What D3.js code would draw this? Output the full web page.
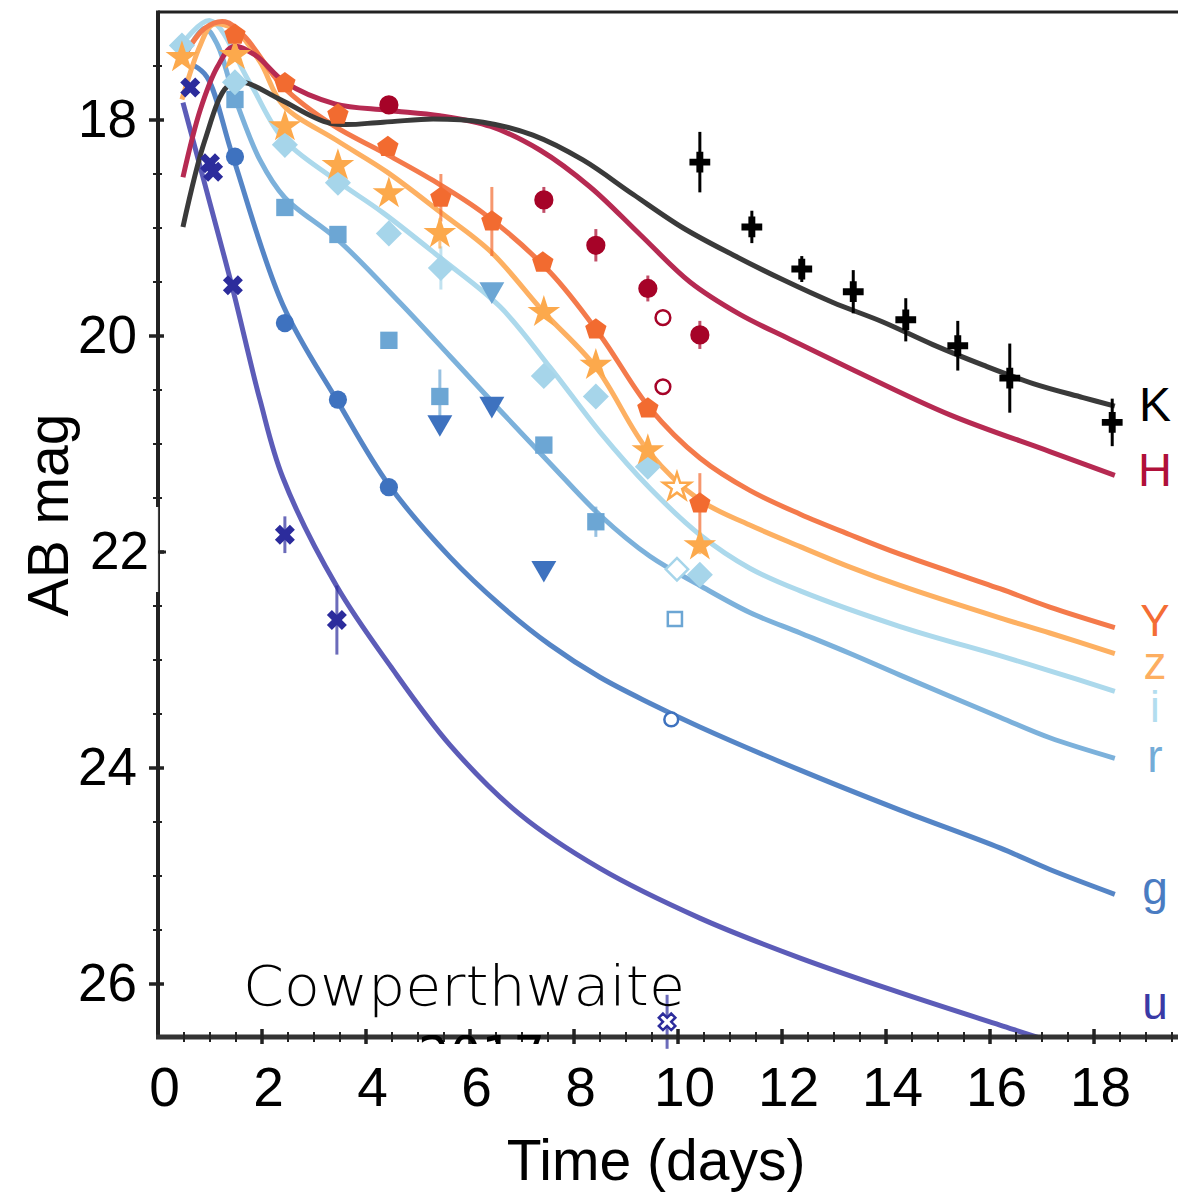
<!DOCTYPE html>
<html>
<head>
<meta charset="utf-8">
<script src="https://cdn.jsdelivr.net/npm/d3@7"></script>
<style>
  body { margin: 0; background: #fff; }
  text { font-family: "Liberation Sans", Arial, Helvetica, sans-serif; }
</style>
</head>
<body>
<div id="chart"></div>
<script>
// ---- model light curves (days, AB mag) ----
const kModelDays = [0.48, 0.9, 1.33, 1.64, 2.35, 3.31, 4.33, 5.29, 6.25, 7.21, 8.17, 9.14, 10.1, 11.06, 12.02, 12.98, 13.94, 14.9, 15.87, 16.83, 17.79, 18.4];
const kModelMags = [18.99, 18.19, 17.69, 17.65, 17.81, 18.03, 18.02, 17.99, 18.02, 18.14, 18.37, 18.69, 19.0, 19.25, 19.48, 19.69, 19.87, 20.08, 20.27, 20.44, 20.57, 20.65];
const hModelDays = [0.48, 0.81, 1.14, 1.44, 1.87, 2.44, 3.4, 4.4, 5.42, 6.4, 7.35, 8.31, 9.27, 10.23, 11.19, 12.15, 13.31, 15.23, 17.15, 18.4];
const hModelMags = [18.53, 17.91, 17.51, 17.32, 17.4, 17.65, 17.85, 17.91, 17.96, 18.06, 18.28, 18.62, 19.06, 19.5, 19.8, 20.03, 20.3, 20.73, 21.07, 21.29];
const yModelDays = [0.46, 0.9, 1.29, 1.67, 2.4, 3.37, 4.33, 5.29, 6.25, 7.54, 8.5, 9.46, 10.42, 11.38, 12.35, 13.31, 14.27, 16.19, 17.15, 18.4];
const yModelMags = [17.44, 17.15, 17.09, 17.23, 17.69, 18.05, 18.3, 18.56, 18.86, 19.41, 19.99, 20.67, 21.13, 21.43, 21.65, 21.84, 22.02, 22.34, 22.51, 22.7];
const zModelDays = [0.46, 0.81, 1.04, 1.44, 1.96, 2.4, 3.44, 4.4, 5.42, 6.4, 7.42, 8.42, 9.42, 10.42, 11.38, 12.35, 13.31, 14.27, 16.19, 17.15, 18.4];
const zModelMags = [17.81, 17.31, 17.12, 17.15, 17.46, 17.86, 18.19, 18.48, 18.85, 19.22, 19.78, 20.29, 21.06, 21.52, 21.75, 21.95, 22.14, 22.31, 22.61, 22.75, 22.94];
const iModelDays = [0.44, 1.0, 1.77, 2.4, 3.37, 4.33, 5.44, 6.58, 7.54, 8.5, 9.46, 10.42, 11.38, 12.35, 14.27, 16.19, 17.15, 18.4];
const iModelMags = [17.31, 17.08, 17.66, 18.17, 18.54, 18.86, 19.28, 19.73, 20.29, 20.89, 21.41, 21.84, 22.15, 22.36, 22.69, 22.96, 23.1, 23.29];
const rModelDays = [0.48, 0.9, 1.15, 1.44, 1.96, 2.44, 3.46, 4.65, 5.62, 6.58, 7.54, 8.5, 9.46, 10.42, 11.38, 12.35, 13.31, 14.27, 16.19, 17.15, 18.4];
const rModelMags = [17.44, 17.15, 17.31, 17.74, 18.37, 18.72, 19.11, 19.69, 20.19, 20.69, 21.18, 21.66, 22.04, 22.31, 22.56, 22.75, 22.94, 23.14, 23.53, 23.72, 23.91];
const gModelDays = [0.67, 0.94, 1.44, 2.4, 3.46, 4.44, 5.62, 6.58, 7.54, 8.5, 9.46, 10.42, 12.35, 14.27, 16.19, 17.15, 18.4];
const gModelMags = [17.49, 17.6, 18.34, 19.71, 20.61, 21.38, 22.05, 22.49, 22.86, 23.16, 23.4, 23.62, 24.02, 24.39, 24.74, 24.94, 25.17];
const uModelDays = [0.48, 0.96, 1.44, 1.96, 2.4, 3.44, 4.46, 5.62, 6.96, 8.5, 10.42, 12.35, 14.27, 16.19, 17.1, 18.4];
const uModelMags = [17.84, 18.7, 19.57, 20.59, 21.31, 22.32, 23.05, 23.79, 24.43, 24.93, 25.39, 25.76, 26.08, 26.38, 26.52, 26.7];

// ---- observations (days, mag, error) ----
const kDays = [10.42, 11.42, 12.38, 13.37, 14.38, 15.38, 16.38, 18.35];
const kMags = [18.39, 18.99, 19.38, 19.59, 19.85, 20.09, 20.39, 20.8];
const kErrs = [0.28, 0.15, 0.12, 0.2, 0.2, 0.23, 0.32, 0.22];
const hDays = [4.44, 7.42, 8.42, 9.42, 10.42];
const hMags = [17.86, 18.74, 19.16, 19.56, 19.99];
const hErrs = [0.05, 0.12, 0.15, 0.12, 0.13];
const hOpenDays = [9.71, 9.71];
const hOpenMags = [19.83, 20.47];
const yDays = [1.48, 2.44, 3.46, 4.42, 5.44, 6.42, 7.4, 8.42, 9.42, 10.42];
const yMags = [17.21, 17.66, 17.95, 18.25, 18.72, 18.94, 19.32, 19.94, 20.67, 21.55];
const yErrs = [0.03, 0.04, 0.04, 0.04, 0.22, 0.32, 0.05, 0.05, 0.06, 0.28];
const zDays = [0.46, 1.48, 2.44, 3.46, 4.44, 5.42, 7.42, 8.42, 9.42, 10.42];
const zMags = [17.42, 17.4, 18.06, 18.42, 18.68, 19.05, 19.78, 20.27, 21.06, 21.94];
const zErrs = [0.03, 0.03, 0.03, 0.03, 0.04, 0.14, 0.05, 0.05, 0.06, 0.08];
const zOpenDays = [9.98];
const zOpenMags = [21.4];
const iDays = [0.46, 1.48, 2.44, 3.46, 4.44, 5.44, 7.42, 8.42, 9.42, 10.42];
const iMags = [17.31, 17.65, 18.23, 18.58, 19.05, 19.37, 20.37, 20.56, 21.21, 22.21];
const iErrs = [0.03, 0.03, 0.03, 0.03, 0.04, 0.2, 0.05, 0.05, 0.06, 0.06];
const iOpenDays = [9.98];
const iOpenMags = [22.16];
const rDays = [1.48, 2.44, 3.46, 4.44, 5.42, 7.42, 8.42];
const rMags = [17.81, 18.81, 19.06, 20.04, 20.56, 21.01, 21.72];
const rErrs = [0.03, 0.03, 0.03, 0.04, 0.25, 0.06, 0.14];
const rTriDays = [6.42];
const rTriMags = [19.57];
const rOpenDays = [9.94];
const rOpenMags = [22.62];
const gDays = [1.48, 2.44, 3.46, 4.44];
const gMags = [18.34, 19.88, 20.59, 21.4];
const gErrs = [0.03, 0.04, 0.04, 0.06];
const gTriDays = [5.42, 6.42, 7.42];
const gTriMags = [20.8, 20.63, 22.15];
const gOpenDays = [9.87];
const gOpenMags = [23.55];
const uDays = [0.62, 1.0, 1.06, 1.44, 2.44, 3.44];
const uMags = [17.7, 18.4, 18.48, 19.53, 21.84, 22.63];
const uErrs = [0.03, 0.04, 0.04, 0.05, 0.17, 0.32];
const uOpenDays = [9.79];
const uOpenMags = [26.35];
const uOpenErrs = [0.25];

const bandNames = ['u', 'g', 'r', 'i', 'z', 'Y', 'H', 'K'];
const xTicks = [0, 2, 4, 6, 8, 10, 12, 14, 16, 18];
const yTicks = [18, 20, 22, 24, 26];

// colours per band
const lineColor = {u: '#5c5cb8', g: '#5585c6', r: '#7cb1db', i: '#acd9ec', z: '#fdb062', Y: '#f47a4b', H: '#b62a52', K: '#3a3a3a'};
const markColor = {u: '#2c2c9c', g: '#3e72bf', r: '#6ca6d4', i: '#a6d5ea', z: '#fca94c', Y: '#f26b30', H: '#a60328', K: '#000000'};
const labelColor = {u: '#3a3aa6', g: '#4a7cc2', r: '#74acd8', i: '#b3ddef', z: '#fdae61', Y: '#f46d35', H: '#b0103a', K: '#000000'};
const labelY = {K: 421, H: 486, Y: 636, z: 679, i: 722, r: 772, g: 904, u: 1019};
const labelSize = {K: 48, H: 47, Y: 44, z: 46, i: 44, r: 46, g: 46, u: 46};

const WIDTH = 1178, HEIGHT = 1195;
const plotLeft = 158, plotTop = 12, plotBottom = 1037;

const svg = d3.select('#chart').append('svg')
              .attr('width', WIDTH)
              .attr('height', HEIGHT)
              .style('background', '#fff');

const x = d3.scaleLinear().domain([0, 19.615]).range([plotLeft, WIDTH]);
const y = d3.scaleLinear().domain([17, 26.5]).range([plotTop, plotBottom + 1]);

svg.append('clipPath').attr('id', 'plot')
   .append('rect').attr('x', plotLeft).attr('y', plotTop)
   .attr('width', WIDTH - plotLeft).attr('height', plotBottom - plotTop);

// custom pentagon symbol
const symbolPentagon = {
  draw(ctx, size) {
    const r = Math.sqrt(size / 2.378);
    for (let i = 0; i < 5; i++) {
      const a = -Math.PI / 2 + i * 2 * Math.PI / 5;
      if (i === 0) ctx.moveTo(r * Math.cos(a), r * Math.sin(a));
      else ctx.lineTo(r * Math.cos(a), r * Math.sin(a));
    }
    ctx.closePath();
  }
};

// model lines
const models = {
  K: d3.zip(kModelDays, kModelMags), H: d3.zip(hModelDays, hModelMags),
  Y: d3.zip(yModelDays, yModelMags), z: d3.zip(zModelDays, zModelMags),
  i: d3.zip(iModelDays, iModelMags), r: d3.zip(rModelDays, rModelMags),
  g: d3.zip(gModelDays, gModelMags), u: d3.zip(uModelDays, uModelMags)
};
const line = d3.line().x(d => x(d[0])).y(d => y(d[1])).curve(d3.curveCatmullRom.alpha(0.5));

const plot = svg.append('g').attr('clip-path', 'url(#plot)');
plot.selectAll('path.model').data(bandNames)
    .enter().append('path')
    .classed('model', true)
    .attr('d', b => line(models[b]))
    .attr('fill', 'none')
    .attr('stroke', b => lineColor[b])
    .attr('stroke-width', 5)
    .attr('stroke-linejoin', 'round');

// observation groups
function group(band, shape, size, days, mags, errs, open, rot) {
  return days.map((d, k) => ({band, shape, size, t: d, m: mags[k], e: errs ? errs[k] : 0, open: !!open, rot: rot || 0}));
}
const points = [].concat(
  group('u', d3.symbolCross, 250, uDays, uMags, uErrs, false, 45),
  group('u', d3.symbolCross, 170, uOpenDays, uOpenMags, uOpenErrs, true, 45),
  group('g', d3.symbolCircle, 260, gDays, gMags, gErrs),
  group('g', d3.symbolTriangle, 270, gTriDays, gTriMags, null, false, 180),
  group('g', d3.symbolCircle, 150, gOpenDays, gOpenMags, null, true),
  group('r', d3.symbolSquare, 300, rDays, rMags, rErrs),
  group('r', d3.symbolTriangle, 270, rTriDays, rTriMags, null, false, 180),
  group('r', d3.symbolSquare, 200, rOpenDays, rOpenMags, null, true),
  group('i', d3.symbolSquare, 340, iDays, iMags, iErrs, false, 45),
  group('i', d3.symbolSquare, 250, iOpenDays, iOpenMags, null, true, 45),
  group('z', d3.symbolStar, 330, zDays, zMags, zErrs),
  group('z', d3.symbolStar, 230, zOpenDays, zOpenMags, null, true),
  group('Y', symbolPentagon, 300, yDays, yMags, yErrs),
  group('H', d3.symbolCircle, 290, hDays, hMags, hErrs),
  group('H', d3.symbolCircle, 170, hOpenDays, hOpenMags, null, true),
  group('K', d3.symbolCross, 240, kDays, kMags, kErrs)
);

// error bars
svg.selectAll('line.err').data(points.filter(p => p.e > 0.06))
   .enter().append('line')
   .classed('err', true)
   .attr('x1', p => x(p.t)).attr('x2', p => x(p.t))
   .attr('y1', p => y(p.m - p.e)).attr('y2', p => y(p.m + p.e))
   .attr('stroke', p => markColor[p.band])
   .attr('stroke-opacity', p => p.band === 'K' ? 1 : 0.7)
   .attr('stroke-width', 3);

svg.selectAll('path.obs').data(points)
   .enter().append('path')
   .classed('obs', true)
   .attr('transform', p => 'translate(' + x(p.t) + ',' + y(p.m) + ') rotate(' + p.rot + ')')
   .attr('d', p => d3.symbol().type(p.shape).size(p.size)())
   .attr('fill', p => p.open ? '#fff' : markColor[p.band])
   .attr('stroke', p => p.open ? markColor[p.band] : 'none')
   .attr('stroke-width', 2.5);

// axes frame
const axisColor = '#222';
svg.append('line').attr('x1', plotLeft).attr('x2', WIDTH).attr('y1', plotTop).attr('y2', plotTop)
   .attr('stroke', axisColor).attr('stroke-width', 3);
svg.append('line').attr('x1', plotLeft).attr('x2', plotLeft).attr('y1', plotTop - 1.5).attr('y2', plotBottom)
   .attr('stroke', axisColor).attr('stroke-width', 4);
svg.append('line').attr('x1', plotLeft - 2).attr('x2', WIDTH).attr('y1', plotBottom).attr('y2', plotBottom)
   .attr('stroke', '#333').attr('stroke-width', 5);

// crossing ticks
const yMinor = d3.range(17.5, 26.5, 0.5);
svg.selectAll('line.ytick').data(yMinor)
   .enter().append('line')
   .classed('ytick', true)
   .attr('x1', v => plotLeft - (v % 2 === 0 ? 9 : 5))
   .attr('x2', v => plotLeft + (v % 2 === 0 ? 6 : 4))
   .attr('y1', v => y(v)).attr('y2', v => y(v))
   .attr('stroke', axisColor).attr('stroke-width', v => v % 2 === 0 ? 3.5 : 2);
const xMinor = d3.range(0.5, 19.6, 0.5);
svg.selectAll('line.xtick').data(xMinor)
   .enter().append('line')
   .classed('xtick', true)
   .attr('x1', v => x(v)).attr('x2', v => x(v))
   .attr('y1', v => plotBottom - (v % 2 === 0 ? 8 : 5))
   .attr('y2', v => plotBottom + (v % 2 === 0 ? 7 : 5))
   .attr('stroke', axisColor).attr('stroke-width', v => v % 2 === 0 ? 3.5 : 2);

// white patch behind the "22" label
svg.append('rect').attr('x', 80).attr('y', 507).attr('width', 78).attr('height', 85).attr('fill', '#fff');
svg.append('line').attr('x1', plotLeft + 0.5).attr('x2', plotLeft + 0.5).attr('y1', 507).attr('y2', 592)
   .attr('stroke', '#444').attr('stroke-width', 1.2);
svg.append('line').attr('x1', plotLeft).attr('x2', plotLeft + 8).attr('y1', y(22)).attr('y2', y(22))
   .attr('stroke', axisColor).attr('stroke-width', 3);

// tick labels
const yAxis = svg.append('g')
   .attr('transform', 'translate(' + (plotLeft - 21) + ',0)')
   .call(d3.axisLeft(y).tickValues(yTicks).tickSize(0).tickPadding(0));
yAxis.select('.domain').remove();
yAxis.selectAll('text').attr('font-size', 53).attr('fill', '#000')
     .attr('font-family', '"Liberation Sans", Arial, sans-serif')
     .attr('dx', v => v === 22 ? 12 : 0);

const xAxis = svg.append('g')
   .attr('transform', 'translate(6,' + plotBottom + ')')
   .call(d3.axisBottom(x).tickValues(xTicks).tickSize(0).tickPadding(30));
xAxis.select('.domain').remove();
xAxis.selectAll('text').attr('font-size', 55).attr('fill', '#000')
     .attr('font-family', '"Liberation Sans", Arial, sans-serif');

// axis titles
svg.append('text')
   .attr('x', 656).attr('y', 1180)
   .attr('text-anchor', 'middle')
   .attr('font-size', 57)
   .text('Time (days)');
svg.append('text')
   .attr('transform', 'translate(68,515) rotate(-90)')
   .attr('text-anchor', 'middle')
   .attr('font-size', 57)
   .text('AB mag');

// band labels on the right
svg.selectAll('text.band').data(bandNames)
   .enter().append('text')
   .classed('band', true)
   .attr('x', 1155)
   .attr('y', b => labelY[b])
   .attr('text-anchor', 'middle')
   .attr('font-size', b => labelSize[b])
   .attr('fill', b => labelColor[b])
   .text(b => b);

// source note
svg.append('text')
   .attr('x', 243).attr('y', 1005)
   .attr('font-size', 55)
   .attr('textLength', 442)
   .attr('lengthAdjust', 'spacingAndGlyphs')
   .style('font-family', '"DejaVu Sans", sans-serif')
   .style('font-weight', 300)
   .text('Cowperthwaite');
svg.append('clipPath').attr('id', 'cut')
   .append('rect').attr('x', 0).attr('y', plotBottom - 2).attr('width', WIDTH).attr('height', 9);
svg.append('text')
   .attr('clip-path', 'url(#cut)')
   .attr('x', 418).attr('y', 1075)
   .attr('font-size', 55)
   .attr('textLength', 127)
   .attr('lengthAdjust', 'spacingAndGlyphs')
   .style('font-family', '"DejaVu Sans", sans-serif')
   .text('2017');
</script>
</body>
</html>
